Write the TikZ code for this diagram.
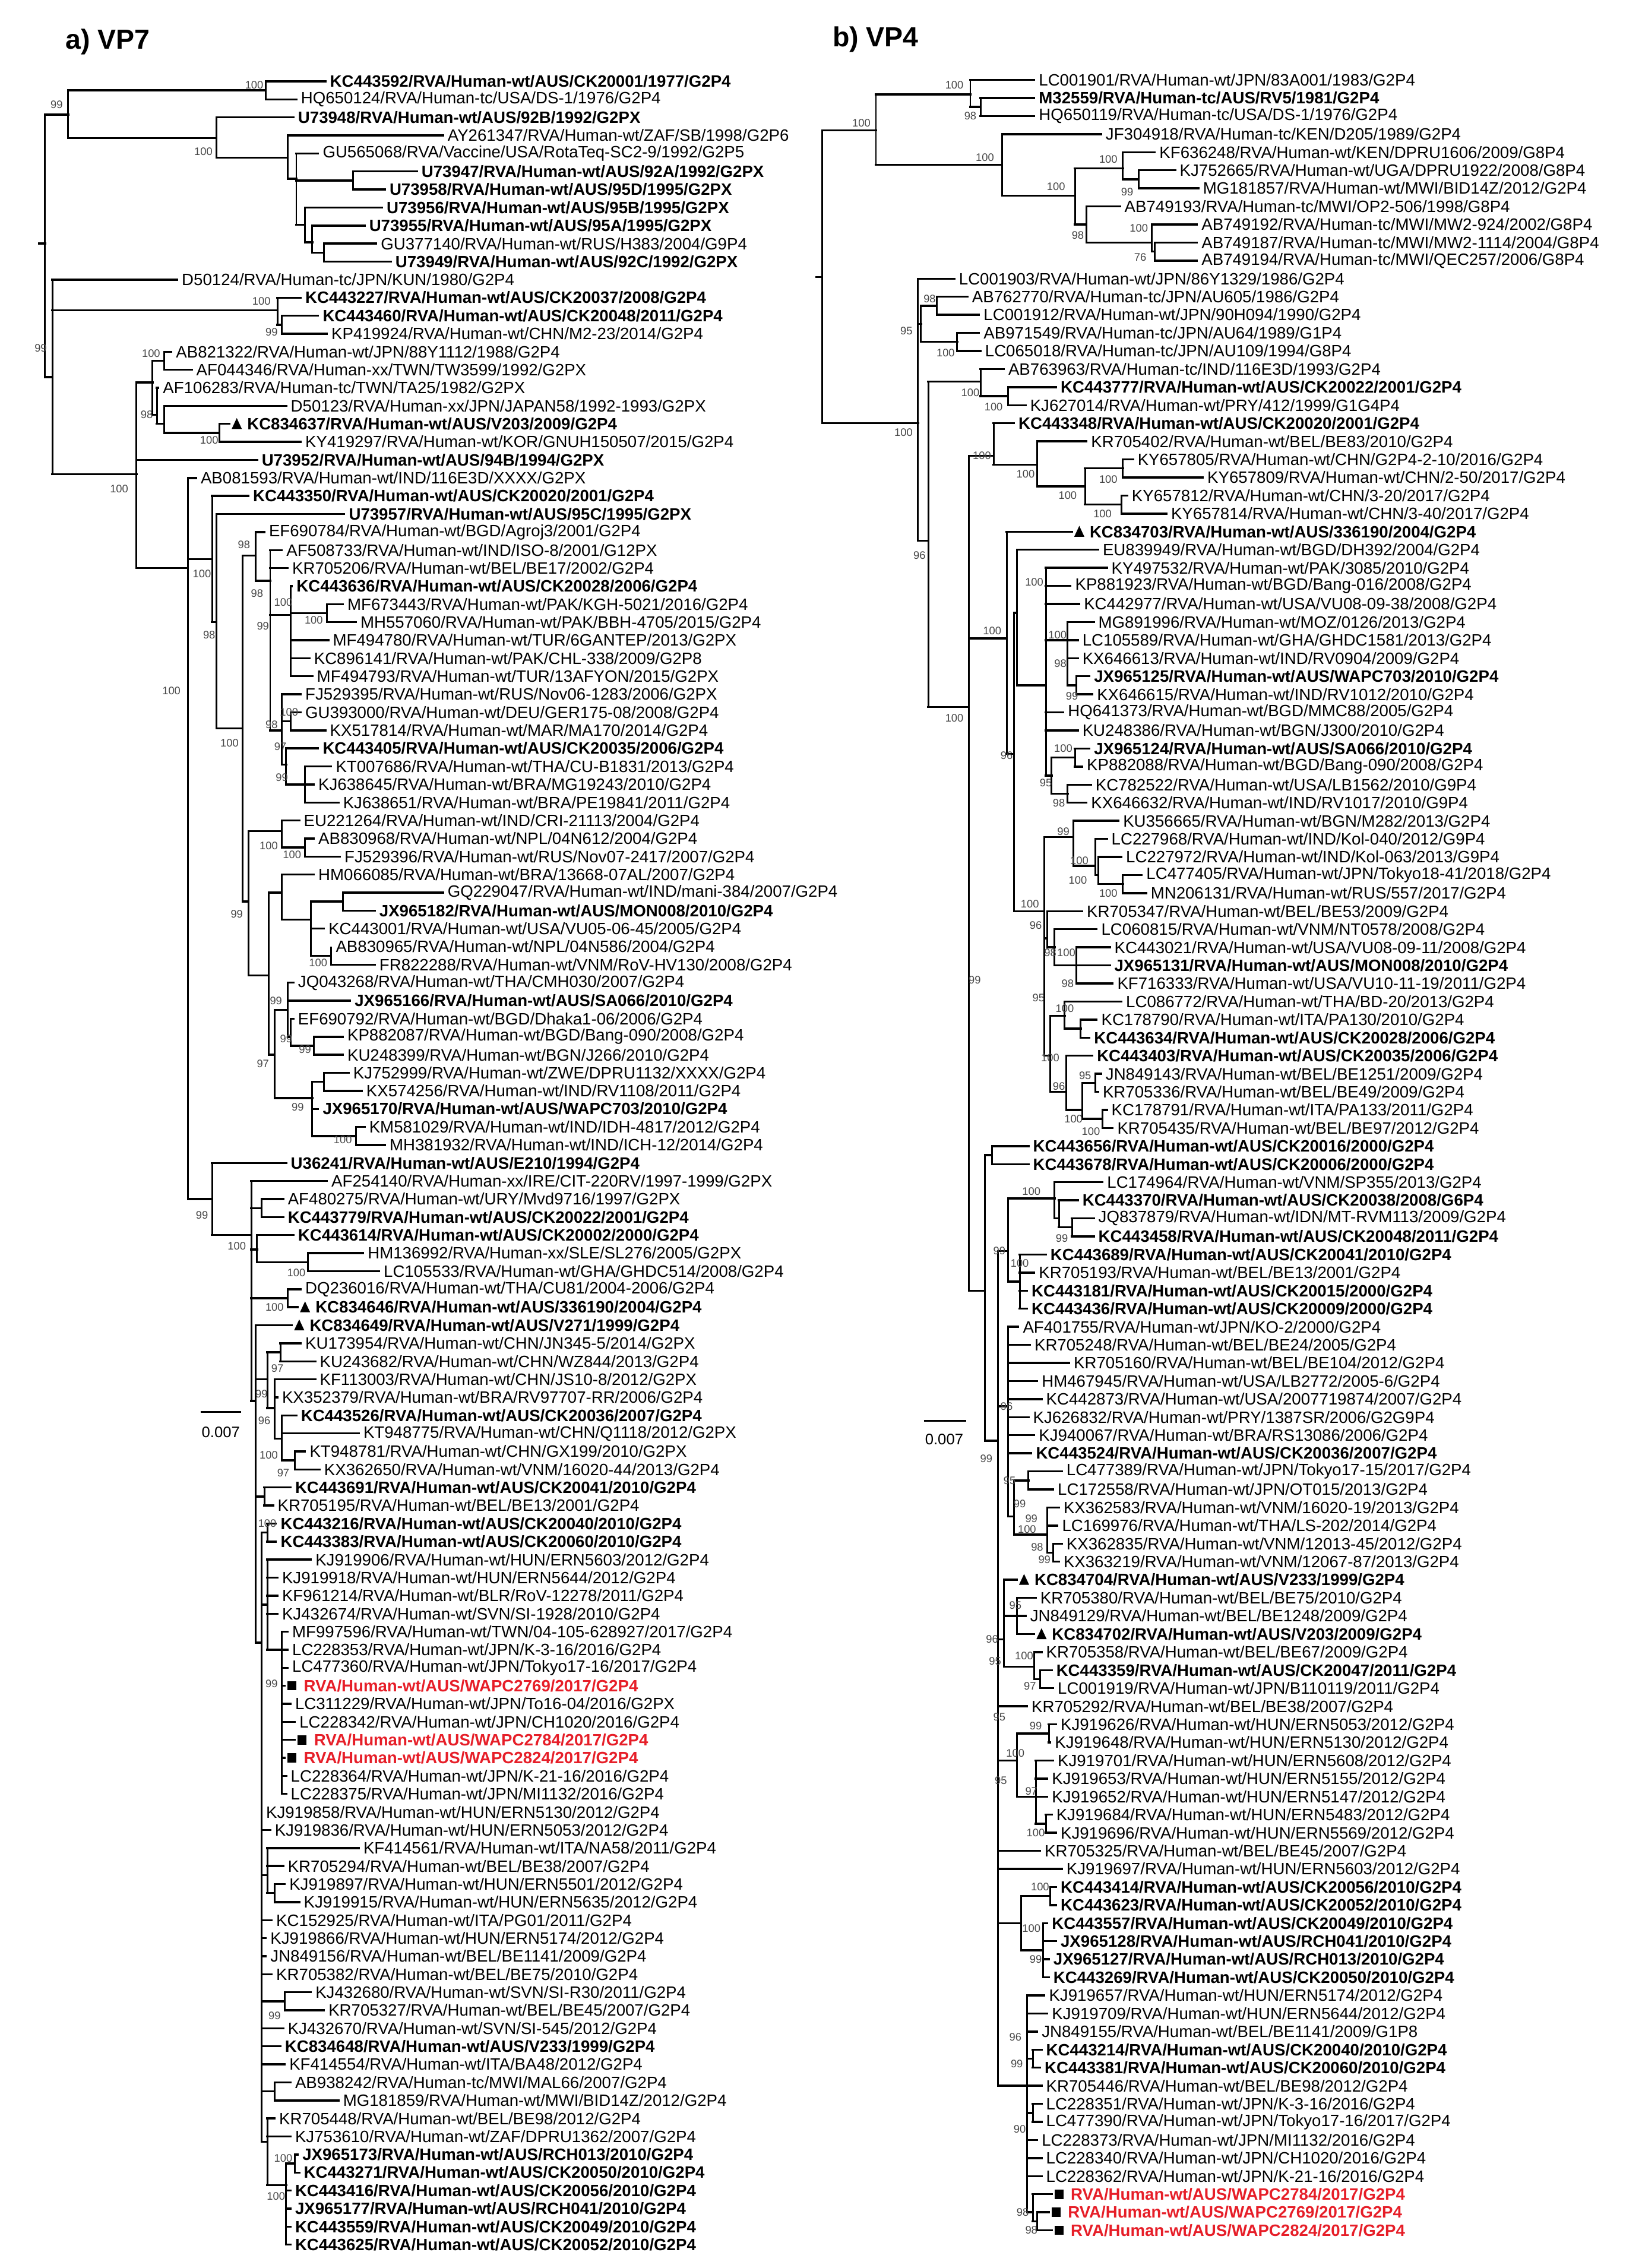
\documentclass[tikz,border=0pt]{standalone}
\usepackage{fontspec}
\setmainfont{Liberation Sans}
\definecolor{redlab}{RGB}{230,30,40}
\definecolor{bsgray}{RGB}{70,70,70}
\tikzset{br/.style={line width=1.4pt,line cap=rect},vr/.style={line width=1.2pt},
lab/.style={anchor=west,inner sep=0pt,font=\fontsize{11.3}{12}\selectfont},
b/.style={font=\fontsize{11.3}{12}\selectfont\bfseries},
r/.style={font=\fontsize{11.3}{12}\selectfont\bfseries,text=redlab},
bsl/.style={inner sep=0pt,font=\fontsize{7.5}{7.5}\selectfont,text=bsgray}}
\newcommand\nd[5]{\pgfmathsetmacro\ya{\Yo+(#3-1)*\Dy}\pgfmathsetmacro\yb{\Yo+(#4-1)*\Dy}\pgfmathsetmacro\ym{\Yo+(#5-1)*\Dy}\draw[br] (#1,\ym)--(#2,\ym);\draw[vr] (#2,\ya)--(#2,\yb);}
\newcommand\lf[5][]{\pgfmathsetmacro\ym{\Yo+(#3-1)*\Dy}\pgfmathsetmacro\tp{#4-3}\draw[br] (#2,\ym)--(\tp,\ym);\node[lab,#1] at (#4,\ym) {#5};}
\newcommand\lft[5][b]{\pgfmathsetmacro\ym{\Yo+(#3-1)*\Dy}\pgfmathsetmacro\tp{#4-5}\draw[br] (#2,\ym)--(\tp,\ym);\fill (#4-3.5,\ym+3.5)--(#4+3.5,\ym+3.5)--(#4,\ym-4)--cycle;\node[lab,#1] at (#4+7,\ym) {#5};}
\newcommand\lfs[5][r]{\pgfmathsetmacro\ym{\Yo+(#3-1)*\Dy}\pgfmathsetmacro\tp{#4-5}\draw[br] (#2,\ym)--(\tp,\ym);\fill (#4-3,\ym-3.2) rectangle (#4+3,\ym+3.2);\node[lab,#1] at (#4+8,\ym) {#5};}
\newcommand\bs[3]{\pgfmathsetmacro\ym{\Yo+(#2-1)*\Dy}\node[bsl] at (#1,\ym) {#3};}
\begin{document}
\begin{tikzpicture}[x=1pt,y=-1pt]
\useasboundingbox (0,0) rectangle (1130.2,1561.3);
\node[anchor=west,inner sep=0pt,font=\fontsize{19}{19}\selectfont\bfseries] (ta) at (45,29) {a) VP7};
\node[anchor=west,inner sep=0pt,font=\fontsize{19}{19}\selectfont\bfseries] (tb) at (573,27) {b) VP4};
% ================= panel a
\def\Yo{56}\def\Dy{12.41}
\nd{27}{31}{2.85}{17.4}{10}
\nd{31}{47}{1.5}{4.15}{2.85}
\nd{47}{183}{1}{2}{1.5}
\lf[b]{183}{1}{227}{KC443592/RVA/Human-wt/AUS/CK20001/1977/G2P4}
\lf{183}{2}{207}{HQ650124/RVA/Human-tc/USA/DS-1/1976/G2P4}
\nd{47}{149}{3}{5.23}{4.15}
\lf[b]{149}{3}{205}{U73948/RVA/Human-wt/AUS/92B/1992/G2PX}
\nd{149}{198}{4}{6.4}{5.23}
\lf{198}{4}{308}{AY261347/RVA/Human-wt/ZAF/SB/1998/G2P6}
\nd{198}{204}{5}{8.96}{6.4}
\lf{204}{5}{222}{GU565068/RVA/Vaccine/USA/RotaTeq-SC2-9/1992/G2P5}
\nd{204}{243}{6}{7}{6.5}
\lf[b]{243}{6}{290}{U73947/RVA/Human-wt/AUS/92A/1992/G2PX}
\lf[b]{243}{7}{268}{U73958/RVA/Human-wt/AUS/95D/1995/G2PX}
\nd{204}{210}{8}{9.93}{8.96}
\lf[b]{210}{8}{266}{U73956/RVA/Human-wt/AUS/95B/1995/G2PX}
\nd{210}{215}{9}{10.5}{9.93}
\lf[b]{215}{9}{254}{U73955/RVA/Human-wt/AUS/95A/1995/G2PX}
\nd{215}{223}{10}{11}{10.5}
\lf{223}{10}{262}{GU377140/RVA/Human-wt/RUS/H383/2004/G9P4}
\lf[b]{223}{11}{272}{U73949/RVA/Human-wt/AUS/92C/1992/G2PX}
\nd{31}{36}{12}{22.8}{17.4}
\lf{36}{12}{125}{D50124/RVA/Human-tc/JPN/KUN/1980/G2P4}
\nd{36}{191}{13}{14.5}{13.7}
\lf[b]{191}{13}{210}{KC443227/RVA/Human-wt/AUS/CK20037/2008/G2P4}
\nd{191}{194}{14}{15}{14.5}
\lf[b]{194}{14}{222}{KC443460/RVA/Human-wt/AUS/CK20048/2011/G2P4}
\lf{194}{15}{228}{KP419924/RVA/Human-wt/CHN/M2-23/2014/G2P4}
\nd{36}{94}{17.7}{28}{22.8}
\lf[b]{94}{22}{180}{U73952/RVA/Human-wt/AUS/94B/1994/G2PX}
\nd{94}{105}{16.5}{19.5}{17.7}
\nd{105}{113}{16}{17}{16.5}
\lf{113}{16}{121}{AB821322/RVA/Human-wt/JPN/88Y1112/1988/G2P4}
\lf{113}{17}{135}{AF044346/RVA/Human-xx/TWN/TW3599/1992/G2PX}
\nd{105}{108}{18}{20}{19.5}
\lf{108}{18}{112}{AF106283/RVA/Human-tc/TWN/TA25/1982/G2PX}
\nd{108}{113}{19}{20.5}{20}
\lf{113}{19}{200}{D50123/RVA/Human-xx/JPN/JAPAN58/1992-1993/G2PX}
\nd{113}{151}{20}{21}{20.5}
\lft{151}{20}{163}{KC834637/RVA/Human-wt/AUS/V203/2009/G2P4}
\lf{151}{21}{210}{KY419297/RVA/Human-wt/KOR/GNUH150507/2015/G2P4}
\nd{94}{129.5}{23}{63}{28}
\lf{129.5}{23}{138}{AB081593/RVA/Human-wt/IND/116E3D/XXXX/G2PX}
\nd{129.5}{146}{24}{31}{27.5}
\lf[b]{146}{24}{174}{KC443350/RVA/Human-wt/AUS/CK20020/2001/G2P4}
\nd{146}{149}{25}{36.9}{31}
\lf[b]{149}{25}{240}{U73957/RVA/Human-wt/AUS/95C/1995/G2PX}
\nd{149}{167}{27.3}{46.5}{36.9}
\nd{167}{176}{26}{28.7}{27.3}
\lf{176}{26}{185}{EF690784/RVA/Human-wt/BGD/Agroj3/2001/G2P4}
\nd{176}{186}{27}{37}{28.7}
\lf{186}{27}{197}{AF508733/RVA/Human-wt/IND/ISO-8/2001/G12PX}
\lf{186}{28}{201}{KR705206/RVA/Human-wt/BEL/BE17/2002/G2P4}
\nd{186}{200}{29}{34}{30.6}
\lf[b]{200}{29}{204}{KC443636/RVA/Human-wt/AUS/CK20028/2006/G2P4}
\nd{200}{225}{30}{31}{30.5}
\lf{225}{30}{239}{MF673443/RVA/Human-wt/PAK/KGH-5021/2016/G2P4}
\lf{225}{31}{248}{MH557060/RVA/Human-wt/PAK/BBH-4705/2015/G2P4}
\lf{200}{32}{229}{MF494780/RVA/Human-wt/TUR/6GANTEP/2013/G2PX}
\lf{200}{33}{216}{KC896141/RVA/Human-wt/PAK/CHL-338/2009/G2P8}
\lf{200}{34}{218}{MF494793/RVA/Human-wt/TUR/13AFYON/2015/G2PX}
\nd{186}{194}{35}{38.9}{37}
\lf{194}{35}{210}{FJ529395/RVA/Human-wt/RUS/Nov06-1283/2006/G2PX}
\nd{194}{200}{36}{37}{36.5}
\lf{200}{36}{210}{GU393000/RVA/Human-wt/DEU/GER175-08/2008/G2P4}
\lf{200}{37}{227}{KX517814/RVA/Human-wt/MAR/MA170/2014/G2P4}
\nd{194}{197}{38}{40}{38.9}
\lf[b]{197}{38}{222}{KC443405/RVA/Human-wt/AUS/CK20035/2006/G2P4}
\nd{197}{210}{39}{41}{40}
\lf{210}{39}{231}{KT007686/RVA/Human-wt/THA/CU-B1831/2013/G2P4}
\lf{210}{40}{219}{KJ638645/RVA/Human-wt/BRA/MG19243/2010/G2P4}
\lf{210}{41}{236}{KJ638651/RVA/Human-wt/BRA/PE19841/2011/G2P4}
\nd{167}{171}{42.6}{50.6}{46.5}
\nd{171}{194}{42}{43.5}{42.6}
\lf{194}{42}{209}{EU221264/RVA/Human-wt/IND/CRI-21113/2004/G2P4}
\nd{194}{210}{43}{44}{43.5}
\lf{210}{43}{219}{AB830968/RVA/Human-wt/NPL/04N612/2004/G2P4}
\lf{210}{44}{237}{FJ529396/RVA/Human-wt/RUS/Nov07-2417/2007/G2P4}
\nd{171}{185}{46}{55}{50.6}
\nd{185}{194}{45}{47.5}{46}
\lf{194}{45}{219}{HM066085/RVA/Human-wt/BRA/13668-07AL/2007/G2P4}
\nd{194}{214}{46.5}{49.5}{47.5}
\nd{214}{236}{46}{47}{46.5}
\lf{236}{46}{308}{GQ229047/RVA/Human-wt/IND/mani-384/2007/G2P4}
\lf[b]{236}{47}{261}{JX965182/RVA/Human-wt/AUS/MON008/2010/G2P4}
\lf{214}{48}{226}{KC443001/RVA/Human-wt/USA/VU05-06-45/2005/G2P4}
\nd{214}{228}{49}{50}{49.5}
\lf{228}{49}{231}{AB830965/RVA/Human-wt/NPL/04N586/2004/G2P4}
\lf{228}{50}{261}{FR822288/RVA/Human-wt/VNM/RoV-HV130/2008/G2P4}
\nd{185}{189}{52.5}{57.4}{55}
\nd{189}{198}{51}{54}{52.5}
\lf{198}{51}{205}{JQ043268/RVA/Human-wt/THA/CMH030/2007/G2P4}
\lf[b]{198}{52}{244}{JX965166/RVA/Human-wt/AUS/SA066/2010/G2P4}
\nd{198}{200}{53}{54.5}{54}
\lf{200}{53}{205}{EF690792/RVA/Human-wt/BGD/Dhaka1-06/2006/G2P4}
\nd{200}{216}{54}{55}{54.5}
\lf{216}{54}{239}{KP882087/RVA/Human-wt/BGD/Bang-090/2008/G2P4}
\lf{216}{55}{239}{KU248399/RVA/Human-wt/BGN/J266/2010/G2P4}
\nd{189}{215}{56.5}{59.5}{57.4}
\nd{215}{223}{56}{57}{56.5}
\lf{223}{56}{243}{KJ752999/RVA/Human-wt/ZWE/DPRU1132/XXXX/G2P4}
\lf{223}{57}{252}{KX574256/RVA/Human-wt/IND/RV1108/2011/G2P4}
\lf[b]{215}{58}{222}{JX965170/RVA/Human-wt/AUS/WAPC703/2010/G2P4}
\nd{215}{245}{59}{60}{59.5}
\lf{245}{59}{254}{KM581029/RVA/Human-wt/IND/IDH-4817/2012/G2P4}
\lf{245}{60}{268}{MH381932/RVA/Human-wt/IND/ICH-12/2014/G2P4}
\nd{129.5}{146}{61}{65}{63}
\lf[b]{146}{61}{200}{U36241/RVA/Human-wt/AUS/E210/1994/G2P4}
\nd{146}{173}{62}{74.2}{65}
\lf{173}{62}{228}{AF254140/RVA/Human-xx/IRE/CIT-220RV/1997-1999/G2PX}
\nd{173}{180}{63}{64}{63.5}
\lf{180}{63}{198}{AF480275/RVA/Human-wt/URY/Mvd9716/1997/G2PX}
\lf[b]{180}{64}{198}{KC443779/RVA/Human-wt/AUS/CK20022/2001/G2P4}
\nd{173}{177}{65}{66.5}{65.8}
\lf[b]{177}{65}{205}{KC443614/RVA/Human-wt/AUS/CK20002/2000/G2P4}
\nd{177}{212}{66}{67}{66.5}
\lf{212}{66}{253}{HM136992/RVA/Human-xx/SLE/SL276/2005/G2PX}
\lf{212}{67}{264}{LC105533/RVA/Human-wt/GHA/GHDC514/2008/G2P4}
\nd{173}{198}{68}{69}{68.5}
\lf{198}{68}{210}{DQ236016/RVA/Human-wt/THA/CU81/2004-2006/G2P4}
\lft{198}{69}{210}{KC834646/RVA/Human-wt/AUS/336190/2004/G2P4}
\nd{173}{176}{70}{87.6}{74.2}
\lft{176}{70}{206}{KC834649/RVA/Human-wt/AUS/V271/1999/G2P4}
\nd{176}{184}{71.5}{74.6}{73}
\nd{184}{193}{71}{72}{71.5}
\lf{193}{71}{210}{KU173954/RVA/Human-wt/CHN/JN345-5/2014/G2PX}
\lf{193}{72}{220}{KU243682/RVA/Human-wt/CHN/WZ844/2013/G2P4}
\nd{184}{189}{73}{76.3}{74.6}
\lf{189}{73}{220}{KF113003/RVA/Human-wt/CHN/JS10-8/2012/G2PX}
\lf{189}{74}{194}{KX352379/RVA/Human-wt/BRA/RV97707-RR/2006/G2P4}
\nd{189}{194}{75}{77.5}{76.3}
\lf[b]{194}{75}{207}{KC443526/RVA/Human-wt/AUS/CK20036/2007/G2P4}
\lf{194}{76}{250}{KT948775/RVA/Human-wt/CHN/Q1118/2012/G2PX}
\nd{194}{203}{77}{78}{77.5}
\lf{203}{77}{213}{KT948781/RVA/Human-wt/CHN/GX199/2010/G2PX}
\lf{203}{78}{223}{KX362650/RVA/Human-wt/VNM/16020-44/2013/G2P4}
\nd{176}{182}{79}{80}{79.5}
\lf[b]{182}{79}{203}{KC443691/RVA/Human-wt/AUS/CK20041/2010/G2P4}
\lf{182}{80}{191}{KR705195/RVA/Human-wt/BEL/BE13/2001/G2P4}
\nd{176}{180}{81.5}{115.3}{87.6}
\nd{180}{184}{81}{82}{81.5}
\lf[b]{184}{81}{193}{KC443216/RVA/Human-wt/AUS/CK20040/2010/G2P4}
\lf[b]{184}{82}{193}{KC443383/RVA/Human-wt/AUS/CK20060/2010/G2P4}
\nd{180}{184}{83}{88}{85.5}
\lf{184}{83}{217}{KJ919906/RVA/Human-wt/HUN/ERN5603/2012/G2P4}
\lf{184}{84}{194}{KJ919918/RVA/Human-wt/HUN/ERN5644/2012/G2P4}
\lf{184}{85}{194}{KF961214/RVA/Human-wt/BLR/RoV-12278/2011/G2P4}
\lf{184}{86}{194}{KJ432674/RVA/Human-wt/SVN/SI-1928/2010/G2P4}
\nd{184}{194}{87}{96}{88}
\lf{194}{87}{201}{MF997596/RVA/Human-wt/TWN/04-105-628927/2017/G2P4}
\lf{194}{88}{201}{LC228353/RVA/Human-wt/JPN/K-3-16/2016/G2P4}
\lf{194}{89}{201}{LC477360/RVA/Human-wt/JPN/Tokyo17-16/2017/G2P4}
\lfs{194}{90}{201}{RVA/Human-wt/AUS/WAPC2769/2017/G2P4}
\lf{194}{91}{203}{LC311229/RVA/Human-wt/JPN/To16-04/2016/G2PX}
\lf{194}{92}{206}{LC228342/RVA/Human-wt/JPN/CH1020/2016/G2P4}
\lfs{194}{93}{208}{RVA/Human-wt/AUS/WAPC2784/2017/G2P4}
\lfs{194}{94}{201}{RVA/Human-wt/AUS/WAPC2824/2017/G2P4}
\lf{194}{95}{200}{LC228364/RVA/Human-wt/JPN/K-21-16/2016/G2P4}
\lf{194}{96}{200}{LC228375/RVA/Human-wt/JPN/MI1132/2016/G2P4}
\lf{180}{97}{183}{KJ919858/RVA/Human-wt/HUN/ERN5130/2012/G2P4}
\lf{180}{98}{189}{KJ919836/RVA/Human-wt/HUN/ERN5053/2012/G2P4}
\nd{180}{184}{99}{101.5}{100.5}
\lf{184}{99}{250}{KF414561/RVA/Human-wt/ITA/NA58/2011/G2P4}
\lf{184}{100}{198}{KR705294/RVA/Human-wt/BEL/BE38/2007/G2P4}
\nd{184}{189}{101}{102}{101.5}
\lf{189}{101}{199}{KJ919897/RVA/Human-wt/HUN/ERN5501/2012/G2P4}
\lf{189}{102}{209}{KJ919915/RVA/Human-wt/HUN/ERN5635/2012/G2P4}
\lf{180}{103}{190}{KC152925/RVA/Human-wt/ITA/PG01/2011/G2P4}
\lf{180}{104}{186}{KJ919866/RVA/Human-wt/HUN/ERN5174/2012/G2P4}
\lf{180}{105}{186}{JN849156/RVA/Human-wt/BEL/BE1141/2009/G2P4}
\lf{180}{106}{190}{KR705382/RVA/Human-wt/BEL/BE75/2010/G2P4}
\nd{180}{196}{107}{108}{107.5}
\lf{196}{107}{217}{KJ432680/RVA/Human-wt/SVN/SI-R30/2011/G2P4}
\lf{196}{108}{226}{KR705327/RVA/Human-wt/BEL/BE45/2007/G2P4}
\lf{180}{109}{198}{KJ432670/RVA/Human-wt/SVN/SI-545/2012/G2P4}
\lf[b]{180}{110}{196}{KC834648/RVA/Human-wt/AUS/V233/1999/G2P4}
\lf{180}{111}{199}{KF414554/RVA/Human-wt/ITA/BA48/2012/G2P4}
\nd{180}{189}{112}{113}{112.5}
\lf{189}{112}{203}{AB938242/RVA/Human-tc/MWI/MAL66/2007/G2P4}
\lf{189}{113}{236}{MG181859/RVA/Human-wt/MWI/BID14Z/2012/G2P4}
\nd{180}{184}{114}{117.7}{115.3}
\lf{184}{114}{192}{KR705448/RVA/Human-wt/BEL/BE98/2012/G2P4}
\lf{184}{115}{203}{KJ753610/RVA/Human-wt/ZAF/DPRU1362/2007/G2P4}
\nd{184}{197}{116.5}{121}{117.7}
\nd{197}{203}{116}{117}{116.5}
\lf[b]{203}{116}{208}{JX965173/RVA/Human-wt/AUS/RCH013/2010/G2P4}
\lf[b]{203}{117}{209}{KC443271/RVA/Human-wt/AUS/CK20050/2010/G2P4}
\lf[b]{197}{118}{203}{KC443416/RVA/Human-wt/AUS/CK20056/2010/G2P4}
\lf[b]{197}{119}{203}{JX965177/RVA/Human-wt/AUS/RCH041/2010/G2P4}
\lf[b]{197}{120}{203}{KC443559/RVA/Human-wt/AUS/CK20049/2010/G2P4}
\lf[b]{197}{121}{203}{KC443625/RVA/Human-wt/AUS/CK20052/2010/G2P4}
% bootstraps a
\bs{175}{1.2}{100}\bs{39}{2.3}{99}\bs{140}{4.9}{100}\bs{180}{13.2}{100}\bs{187}{14.9}{99}
\bs{28}{15.8}{99}\bs{104}{16.1}{100}\bs{101}{19.5}{98}\bs{144}{20.9}{100}
\bs{82}{23.6}{100}\bs{139}{28.3}{100}\bs{168}{26.7}{98}\bs{177}{29.4}{98}\bs{195}{29.9}{100}
\bs{216}{30.9}{100}\bs{181}{31.2}{99}\bs{144}{31.7}{98}\bs{118}{34.8}{100}\bs{187}{36.7}{98}
\bs{199}{36.0}{100}\bs{158}{37.7}{100}\bs{193}{37.9}{97}\bs{194}{39.6}{99}
\bs{185}{43.4}{100}\bs{201}{43.9}{100}\bs{163}{47.2}{99}\bs{219}{49.9}{100}\bs{190}{52.0}{99}
\bs{197}{54.1}{99}\bs{210}{54.7}{99}\bs{181}{55.5}{97}\bs{205}{57.9}{99}\bs{236}{59.7}{100}
\bs{139}{63.9}{99}\bs{163}{65.6}{100}\bs{204}{67.1}{100}\bs{189}{69.0}{100}\bs{191}{72.4}{97}
\bs{180}{73.8}{99}\bs{182}{75.3}{96}\bs{185}{77.2}{100}\bs{195}{78.2}{97}\bs{184}{81.0}{100}
\bs{187}{89.9}{99}\bs{189}{108.3}{99}\bs{195}{116.2}{100}\bs{190}{118.3}{100}
\draw[line width=1.4pt] (138,972) -- (166,972);
\node[inner sep=0pt,font=\fontsize{10.5}{10.5}\selectfont] (sa) at (152,986) {0.007};
% ================= panel b
\def\Yo{55}\def\Dy{12.44}
\nd{562}{566}{3.8}{20}{11.9}
\nd{566}{603}{1.8}{5.7}{3.8}
\nd{603}{668}{1}{2.5}{1.8}
\lf{668}{1}{715}{LC001901/RVA/Human-wt/JPN/83A001/1983/G2P4}
\nd{668}{675}{2}{3}{2.5}
\lf[b]{675}{2}{715}{M32559/RVA/Human-tc/AUS/RV5/1981/G2P4}
\lf{675}{3}{715}{HQ650119/RVA/Human-tc/USA/DS-1/1976/G2P4}
\nd{603}{690}{4}{7.4}{5.7}
\lf{690}{4}{761}{JF304918/RVA/Human-tc/KEN/D205/1989/G2P4}
\nd{690}{740}{5.9}{9}{7.4}
\nd{740}{773}{5}{6.5}{5.9}
\lf{773}{5}{798}{KF636248/RVA/Human-wt/KEN/DPRU1606/2009/G8P4}
\nd{773}{784}{6}{7}{6.5}
\lf{784}{6}{812}{KJ752665/RVA/Human-wt/UGA/DPRU1922/2008/G8P4}
\lf{784}{7}{828}{MG181857/RVA/Human-wt/MWI/BID14Z/2012/G2P4}
\nd{740}{748}{8}{10}{9}
\lf{748}{8}{774}{AB749193/RVA/Human-tc/MWI/OP2-506/1998/G8P4}
\nd{748}{793}{9}{10.5}{10}
\lf{793}{9}{827}{AB749192/RVA/Human-tc/MWI/MW2-924/2002/G8P4}
\nd{793}{795}{10}{11}{10.5}
\lf{795}{10}{827}{AB749187/RVA/Human-tc/MWI/MW2-1114/2004/G8P4}
\lf{795}{11}{827}{AB749194/RVA/Human-tc/MWI/QEC257/2006/G8P4}
\nd{566}{632}{12}{26.5}{20}
\lf{632}{12}{660}{LC001903/RVA/Human-wt/JPN/86Y1329/1986/G2P4}
\nd{632}{634}{13.5}{15.5}{14.5}
\nd{634}{645}{13}{14}{13.5}
\lf{645}{13}{669}{AB762770/RVA/Human-tc/JPN/AU605/1986/G2P4}
\lf{645}{14}{677}{LC001912/RVA/Human-wt/JPN/90H094/1990/G2P4}
\nd{634}{659}{15}{16}{15.5}
\lf{659}{15}{677}{AB971549/RVA/Human-tc/JPN/AU64/1989/G1P4}
\lf{659}{16}{678}{LC065018/RVA/Human-tc/JPN/AU109/1994/G8P4}
\nd{632}{639}{17.7}{35.7}{26.5}
\nd{639}{675}{17}{18.5}{17.7}
\lf{675}{17}{694}{AB763963/RVA/Human-tc/IND/116E3D/1993/G2P4}
\nd{675}{694}{18}{19}{18.5}
\lf[b]{694}{18}{730}{KC443777/RVA/Human-wt/AUS/CK20022/2001/G2P4}
\lf{694}{19}{709}{KJ627014/RVA/Human-wt/PRY/412/1999/G1G4P4}
\nd{639}{667}{21.8}{68}{35.7}
\nd{667}{684}{20}{22.3}{21.8}
\lf[b]{684}{20}{701}{KC443348/RVA/Human-wt/AUS/CK20020/2001/G2P4}
\nd{684}{714}{21}{23.5}{22.3}
\lf{714}{21}{751}{KR705402/RVA/Human-wt/BEL/BE83/2010/G2P4}
\nd{714}{747}{22.5}{24.5}{23.5}
\nd{747}{773}{22}{23}{22.5}
\lf{773}{22}{783}{KY657805/RVA/Human-wt/CHN/G2P4-2-10/2016/G2P4}
\lf{773}{23}{831}{KY657809/RVA/Human-wt/CHN/2-50/2017/G2P4}
\nd{747}{772}{24}{25}{24.5}
\lf{772}{24}{779}{KY657812/RVA/Human-wt/CHN/3-20/2017/G2P4}
\lf{772}{25}{806}{KY657814/RVA/Human-wt/CHN/3-40/2017/G2P4}
\nd{667}{693}{26}{38.3}{31.9}
\lft{693}{26}{743}{KC834703/RVA/Human-wt/AUS/336190/2004/G2P4}
\nd{693}{698}{30.5}{47}{38.3}
\nd{698}{700}{27}{34.5}{30.5}
\lf{700}{27}{759}{EU839949/RVA/Human-wt/BGD/DH392/2004/G2P4}
\nd{700}{720}{28}{39.5}{34.5}
\lf{720}{28}{765}{KY497532/RVA/Human-wt/PAK/3085/2010/G2P4}
\lf{720}{29}{740}{KP881923/RVA/Human-wt/BGD/Bang-016/2008/G2P4}
\lf{720}{30}{746}{KC442977/RVA/Human-wt/USA/VU08-09-38/2008/G2P4}
\nd{720}{735}{31}{34.5}{32}
\lf{735}{31}{756}{MG891996/RVA/Human-wt/MOZ/0126/2013/G2P4}
\lf{735}{32}{745}{LC105589/RVA/Human-wt/GHA/GHDC1581/2013/G2P4}
\lf{735}{33}{745}{KX646613/RVA/Human-wt/IND/RV0904/2009/G2P4}
\nd{735}{741}{34}{35}{34.5}
\lf[b]{741}{34}{753}{JX965125/RVA/Human-wt/AUS/WAPC703/2010/G2P4}
\lf{741}{35}{755}{KX646615/RVA/Human-wt/IND/RV1012/2010/G2P4}
\lf{720}{36}{735}{HQ641373/RVA/Human-wt/BGD/MMC88/2005/G2P4}
\lf{720}{37}{745}{KU248386/RVA/Human-wt/BGN/J300/2010/G2P4}
\nd{720}{724}{38.5}{40.5}{39.5}
\nd{724}{740}{38}{39}{38.5}
\lf[b]{740}{38}{753}{JX965124/RVA/Human-wt/AUS/SA066/2010/G2P4}
\lf{740}{39}{748}{KP882088/RVA/Human-wt/BGD/Bang-090/2008/G2P4}
\nd{724}{735}{40}{41}{40.5}
\lf{735}{40}{754}{KC782522/RVA/Human-wt/USA/LB1562/2010/G9P4}
\lf{735}{41}{751}{KX646632/RVA/Human-wt/IND/RV1017/2010/G9P4}
\nd{698}{719}{42.9}{55}{47}
\nd{719}{739}{42}{44.5}{42.9}
\lf{739}{42}{773}{KU356665/RVA/Human-wt/BGN/M282/2013/G2P4}
\nd{739}{754}{43}{45}{44.5}
\lf{754}{43}{765}{LC227968/RVA/Human-wt/IND/Kol-040/2012/G9P4}
\nd{754}{756}{44}{45.5}{45}
\lf{756}{44}{775}{LC227972/RVA/Human-wt/IND/Kol-063/2013/G9P4}
\nd{756}{773}{45}{46}{45.5}
\lf{773}{45}{789}{LC477405/RVA/Human-wt/JPN/Tokyo18-41/2018/G2P4}
\lf{773}{46}{792}{MN206131/RVA/Human-wt/RUS/557/2017/G2P4}
\nd{719}{721}{47}{49}{48.5}
\lf{721}{47}{748}{KR705347/RVA/Human-wt/BEL/BE53/2009/G2P4}
\nd{721}{726}{48}{50}{49}
\lf{726}{48}{758}{LC060815/RVA/Human-wt/VNM/NT0578/2008/G2P4}
\nd{726}{741}{49}{51}{50}
\lf{741}{49}{767}{KC443021/RVA/Human-wt/USA/VU08-09-11/2008/G2P4}
\lf[b]{741}{50}{767}{JX965131/RVA/Human-wt/AUS/MON008/2010/G2P4}
\lf{741}{51}{769}{KF716333/RVA/Human-wt/USA/VU10-11-19/2011/G2P4}
\nd{719}{723}{52.8}{57}{55}
\nd{723}{733}{52}{53.5}{52.8}
\lf{733}{52}{775}{LC086772/RVA/Human-wt/THA/BD-20/2013/G2P4}
\nd{733}{744}{53}{54}{53.5}
\lf{744}{53}{758}{KC178790/RVA/Human-wt/ITA/PA130/2010/G2P4}
\lf[b]{744}{54}{753}{KC443634/RVA/Human-wt/AUS/CK20028/2006/G2P4}
\nd{723}{734}{55}{58}{57}
\lf[b]{734}{55}{755}{KC443403/RVA/Human-wt/AUS/CK20035/2006/G2P4}
\nd{734}{745}{56.5}{58.5}{58}
\nd{745}{754}{56}{57}{56.5}
\lf{754}{56}{761}{JN849143/RVA/Human-wt/BEL/BE1251/2009/G2P4}
\lf{754}{57}{759}{KR705336/RVA/Human-wt/BEL/BE49/2009/G2P4}
\nd{745}{759}{58}{59}{58.5}
\lf{759}{58}{765}{KC178791/RVA/Human-wt/ITA/PA133/2011/G2P4}
\lf{759}{59}{769}{KR705435/RVA/Human-wt/BEL/BE97/2012/G2P4}
\nd{667}{678}{60.5}{76.3}{68}
\nd{678}{683}{60}{61}{60.5}
\lf[b]{683}{60}{711}{KC443656/RVA/Human-wt/AUS/CK20016/2000/G2P4}
\lf[b]{683}{61}{711}{KC443678/RVA/Human-wt/AUS/CK20006/2000/G2P4}
\nd{678}{687}{65.8}{112}{76.3}
\nd{687}{694}{62.9}{67.5}{65.8}
\nd{694}{726}{62}{64}{62.9}
\lf{726}{62}{762}{LC174964/RVA/Human-wt/VNM/SP355/2013/G2P4}
\nd{726}{729}{63}{64.5}{64}
\lf[b]{729}{63}{745}{KC443370/RVA/Human-wt/AUS/CK20038/2008/G6P4}
\nd{729}{738}{64}{65}{64.5}
\lf{738}{64}{756}{JQ837879/RVA/Human-wt/IDN/MT-RVM113/2009/G2P4}
\lf[b]{738}{65}{756}{KC443458/RVA/Human-wt/AUS/CK20048/2011/G2P4}
\nd{694}{702}{66}{69}{67.5}
\lf[b]{702}{66}{723}{KC443689/RVA/Human-wt/AUS/CK20041/2010/G2P4}
\lf{702}{67}{715}{KR705193/RVA/Human-wt/BEL/BE13/2001/G2P4}
\lf[b]{702}{68}{710}{KC443181/RVA/Human-wt/AUS/CK20015/2000/G2P4}
\lf[b]{702}{69}{710}{KC443436/RVA/Human-wt/AUS/CK20009/2000/G2P4}
\nd{687}{694}{70}{80.5}{74.4}
\lf{694}{70}{704}{AF401755/RVA/Human-wt/JPN/KO-2/2000/G2P4}
\lf{694}{71}{712}{KR705248/RVA/Human-wt/BEL/BE24/2005/G2P4}
\lf{694}{72}{739}{KR705160/RVA/Human-wt/BEL/BE104/2012/G2P4}
\lf{694}{73}{717}{HM467945/RVA/Human-wt/USA/LB2772/2005-6/G2P4}
\lf{694}{74}{720}{KC442873/RVA/Human-wt/USA/2007719874/2007/G2P4}
\lf{694}{75}{711}{KJ626832/RVA/Human-wt/PRY/1387SR/2006/G2G9P4}
\lf{694}{76}{715}{KJ940067/RVA/Human-wt/BRA/RS13086/2006/G2P4}
\lf[b]{694}{77}{713}{KC443524/RVA/Human-wt/AUS/CK20036/2007/G2P4}
\nd{694}{698}{78.5}{81.5}{80.5}
\nd{698}{708}{78}{79}{78.5}
\lf{708}{78}{734}{LC477389/RVA/Human-wt/JPN/Tokyo17-15/2017/G2P4}
\lf{708}{79}{728}{LC172558/RVA/Human-wt/JPN/OT015/2013/G2P4}
\nd{698}{721}{80}{82.5}{81.5}
\lf{721}{80}{732}{KX362583/RVA/Human-wt/VNM/16020-19/2013/G2P4}
\lf{721}{81}{731}{LC169976/RVA/Human-wt/THA/LS-202/2014/G2P4}
\nd{721}{725}{82}{83}{82.5}
\lf{725}{82}{734}{KX362835/RVA/Human-wt/VNM/12013-45/2012/G2P4}
\lf{725}{83}{732}{KX363219/RVA/Human-wt/VNM/12067-87/2013/G2P4}
\nd{687}{691}{84}{88.8}{87.3}
\lft{691}{84}{705}{KC834704/RVA/Human-wt/AUS/V233/1999/G2P4}
\nd{691}{700}{85}{87}{86}
\lf{700}{85}{716}{KR705380/RVA/Human-wt/BEL/BE75/2010/G2P4}
\lf{700}{86}{709}{JN849129/RVA/Human-wt/BEL/BE1248/2009/G2P4}
\lft{700}{87}{717}{KC834702/RVA/Human-wt/AUS/V203/2009/G2P4}
\nd{691}{712}{88}{89.5}{88.8}
\lf{712}{88}{720}{KR705358/RVA/Human-wt/BEL/BE67/2009/G2P4}
\nd{712}{716}{89}{90}{89.5}
\lf[b]{716}{89}{727}{KC443359/RVA/Human-wt/AUS/CK20047/2011/G2P4}
\lf{716}{90}{728}{LC001919/RVA/Human-wt/JPN/B110119/2011/G2P4}
\lf{687}{91}{710}{KR705292/RVA/Human-wt/BEL/BE38/2007/G2P4}
\nd{687}{700}{92.5}{96}{94}
\nd{700}{722}{92}{93}{92.5}
\lf{722}{92}{730}{KJ919626/RVA/Human-wt/HUN/ERN5053/2012/G2P4}
\lf{722}{93}{726}{KJ919648/RVA/Human-wt/HUN/ERN5130/2012/G2P4}
\nd{700}{713}{94}{97.5}{96}
\lf{713}{94}{728}{KJ919701/RVA/Human-wt/HUN/ERN5608/2012/G2P4}
\lf{713}{95}{724}{KJ919653/RVA/Human-wt/HUN/ERN5155/2012/G2P4}
\lf{713}{96}{724}{KJ919652/RVA/Human-wt/HUN/ERN5147/2012/G2P4}
\nd{713}{720}{97}{98}{97.5}
\lf{720}{97}{727}{KJ919684/RVA/Human-wt/HUN/ERN5483/2012/G2P4}
\lf{720}{98}{730}{KJ919696/RVA/Human-wt/HUN/ERN5569/2012/G2P4}
\lf{687}{99}{719}{KR705325/RVA/Human-wt/BEL/BE45/2007/G2P4}
\lf{687}{100}{734}{KJ919697/RVA/Human-wt/HUN/ERN5603/2012/G2P4}
\nd{687}{703}{101.5}{104.5}{103}
\nd{703}{723}{101}{102}{101.5}
\lf[b]{723}{101}{730}{KC443414/RVA/Human-wt/AUS/CK20056/2010/G2P4}
\lf[b]{723}{102}{730}{KC443623/RVA/Human-wt/AUS/CK20052/2010/G2P4}
\nd{703}{718}{103}{106}{104.5}
\lf[b]{718}{103}{724}{KC443557/RVA/Human-wt/AUS/CK20049/2010/G2P4}
\lf[b]{718}{104}{730}{JX965128/RVA/Human-wt/AUS/RCH041/2010/G2P4}
\lf[b]{718}{105}{725}{JX965127/RVA/Human-wt/AUS/RCH013/2010/G2P4}
\lf[b]{718}{106}{725}{KC443269/RVA/Human-wt/AUS/CK20050/2010/G2P4}
\nd{687}{707}{107}{119}{112}
\lf{707}{107}{722}{KJ919657/RVA/Human-wt/HUN/ERN5174/2012/G2P4}
\lf{707}{108}{724}{KJ919709/RVA/Human-wt/HUN/ERN5644/2012/G2P4}
\lf{707}{109}{717}{JN849155/RVA/Human-wt/BEL/BE1141/2009/G1P8}
\nd{707}{711}{110}{111}{110.5}
\lf[b]{711}{110}{720}{KC443214/RVA/Human-wt/AUS/CK20040/2010/G2P4}
\lf[b]{711}{111}{719}{KC443381/RVA/Human-wt/AUS/CK20060/2010/G2P4}
\lf{707}{112}{720}{KR705446/RVA/Human-wt/BEL/BE98/2012/G2P4}
\nd{707}{711}{113}{114}{113.5}
\lf{711}{113}{720}{LC228351/RVA/Human-wt/JPN/K-3-16/2016/G2P4}
\lf{711}{114}{720}{LC477390/RVA/Human-wt/JPN/Tokyo17-16/2017/G2P4}
\lf{707}{115}{717}{LC228373/RVA/Human-wt/JPN/MI1132/2016/G2P4}
\lf{707}{116}{720}{LC228340/RVA/Human-wt/JPN/CH1020/2016/G2P4}
\lf{707}{117}{720}{LC228362/RVA/Human-wt/JPN/K-21-16/2016/G2P4}
\nd{707}{711}{118}{119.5}{119}
\lfs{711}{118}{729}{RVA/Human-wt/AUS/WAPC2784/2017/G2P4}
\nd{711}{714}{119}{120}{119.5}
\lfs{714}{119}{727}{RVA/Human-wt/AUS/WAPC2769/2017/G2P4}
\lfs{714}{120}{729}{RVA/Human-wt/AUS/WAPC2824/2017/G2P4}
% bootstraps b
\bs{657}{1.3}{100}\bs{668}{3.0}{98}\bs{593}{3.4}{100}\bs{678}{5.3}{100}\bs{763}{5.4}{100}
\bs{776}{7.2}{99}\bs{727}{6.9}{100}\bs{742}{9.6}{98}\bs{784}{9.2}{100}\bs{785}{10.8}{76}
\bs{640}{13.1}{98}\bs{624}{14.9}{95}\bs{651}{16.1}{100}\bs{668}{18.3}{100}\bs{684}{19.1}{100}
\bs{622}{20.5}{100}\bs{676}{21.8}{100}\bs{706}{22.8}{100}\bs{735}{24.0}{100}\bs{763}{23.1}{100}
\bs{759}{25.0}{100}\bs{633}{27.3}{96}\bs{712}{28.8}{100}
\bs{683}{31.5}{100}\bs{657}{36.3}{100}\bs{728}{31.7}{100}\bs{730}{33.3}{98}\bs{738}{35.1}{99}
\bs{693}{38.4}{96}\bs{732}{38.0}{100}\bs{720}{39.9}{95}\bs{729}{41.0}{98}\bs{732}{42.6}{99}
\bs{743}{44.2}{100}\bs{742}{45.3}{100}\bs{763}{46.0}{100}\bs{709}{46.6}{100}\bs{713}{47.8}{96}
\bs{723}{49.3}{98}\bs{734}{49.3}{100}\bs{735}{51.0}{98}\bs{671}{50.8}{99}\bs{715}{51.8}{95}
\bs{733}{52.4}{100}\bs{723}{55.1}{100}\bs{747}{56.1}{95}\bs{729}{56.7}{96}\bs{739}{58.5}{100}
\bs{751}{59.2}{100}
\bs{710}{62.5}{100}\bs{731}{65.1}{99}\bs{688}{65.8}{99}\bs{702}{66.5}{100}\bs{693}{74.4}{96}
\bs{679}{77.3}{99}\bs{695}{78.5}{95}\bs{702}{79.8}{99}\bs{710}{80.6}{99}\bs{707}{81.2}{100}
\bs{714}{82.2}{98}\bs{719}{82.9}{99}\bs{699}{85.4}{95}\bs{683}{87.3}{96}\bs{685}{88.5}{95}
\bs{705}{88.2}{100}\bs{709}{89.9}{97}
\bs{688}{91.6}{95}\bs{713}{92.1}{99}\bs{699}{93.6}{100}\bs{689}{95.1}{95}\bs{710}{95.7}{97}
\bs{713}{98.0}{100}\bs{716}{101.0}{100}\bs{710}{103.3}{100}\bs{713}{105.0}{99}\bs{699}{109.3}{96}
\bs{700}{110.8}{99}\bs{702}{114.4}{90}\bs{704}{119.0}{98}\bs{710}{120.0}{98}
\draw[line width=1.4pt] (636,978) -- (665,978);
\node[inner sep=0pt,font=\fontsize{10.5}{10.5}\selectfont] (sb) at (650,991) {0.007};
\end{tikzpicture}
\end{document}
